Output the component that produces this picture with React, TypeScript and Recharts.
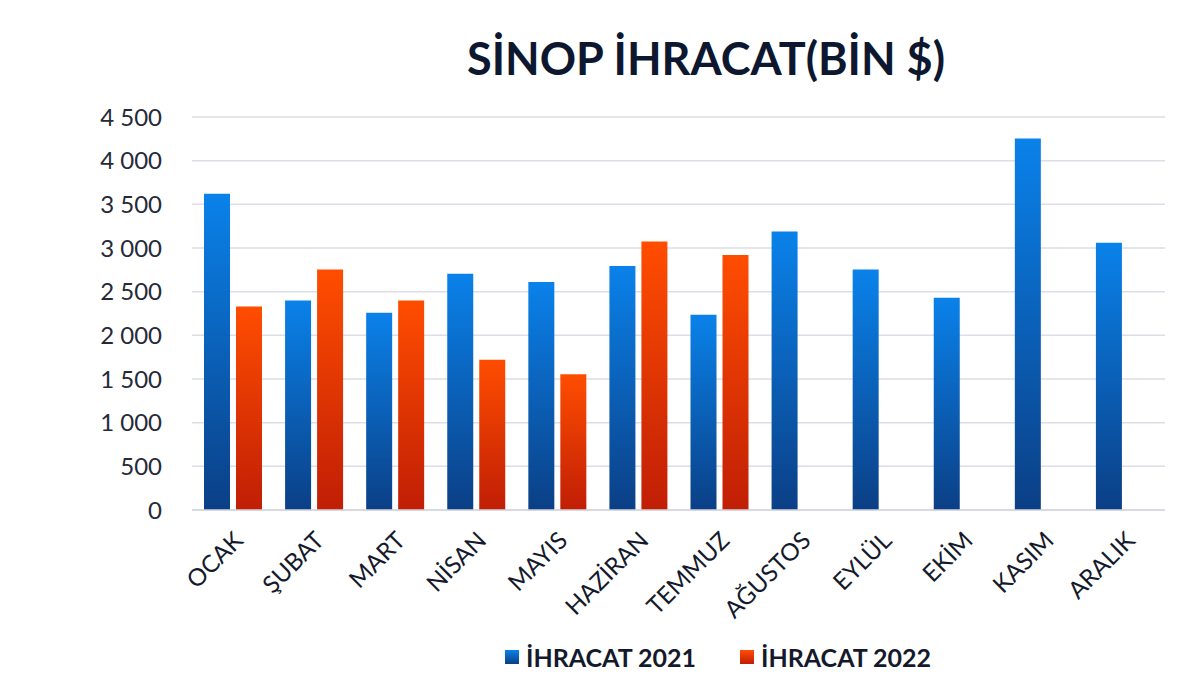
import { BarChart, Bar, XAxis, YAxis, CartesianGrid } from 'recharts';

const months = ['OCAK', 'ŞUBAT', 'MART', 'NİSAN', 'MAYIS', 'HAZİRAN', 'TEMMUZ', 'AĞUSTOS', 'EYLÜL', 'EKİM', 'KASIM', 'ARALIK'];
const exports2021 = [3620, 2400, 2260, 2705, 2610, 2795, 2235, 3190, 2755, 2430, 4255, 3060];
const exports2022 = [2330, 2755, 2400, 1720, 1555, 3075, 2920, null, null, null, null, null];
const yTicks = [0, 500, 1000, 1500, 2000, 2500, 3000, 3500, 4000, 4500];
const seriesNames = ['İHRACAT 2021', 'İHRACAT 2022'];

const data = months.map((m, i) => ({ month: m, y2021: exports2021[i], y2022: exports2022[i] }));

const FONT = "Lato, 'Open Sans', sans-serif";
const INK = '#141a2c';

const fmt = (v: number) => String(v).replace(/\B(?=(\d{3})+(?!\d))/g, ' ');

function MonthTick({ x, y, payload }: any) {
  const tx = x + 12;
  const ty = y + 24;
  return (
    <text
      x={tx}
      y={ty}
      transform={`rotate(-45, ${tx}, ${ty})`}
      textAnchor="end"
      fontFamily={FONT}
      fontSize={24}
      fill={INK}
    >
      {payload.value}
    </text>
  );
}

export default function App() {
  return (
    <div style={{ position: 'relative', width: 1184, height: 671, background: '#fff', fontFamily: FONT }}>
      <div
        style={{
          position: 'absolute',
          top: 22,
          left: 0,
          width: 1184,
          paddingLeft: 212,
          boxSizing: 'border-box',
          textAlign: 'center',
          fontSize: 45,
          fontWeight: 700,
          color: '#0d1730',
          lineHeight: '56px',
        }}
      >
        SİNOP İHRACAT(BİN $)
      </div>

      <BarChart
        width={1184}
        height={671}
        data={data}
        margin={{ top: 109, right: 27, left: 0, bottom: 0 }}
        barSize={26}
        barGap={6}
      >
        <defs>
          <linearGradient id="blueGrad" x1="0" y1="0" x2="0" y2="1">
            <stop offset="0%" stopColor="#0a82ea" />
            <stop offset="100%" stopColor="#0b3f86" />
          </linearGradient>
          <linearGradient id="orangeGrad" x1="0" y1="0" x2="0" y2="1">
            <stop offset="0%" stopColor="#ff4d00" />
            <stop offset="100%" stopColor="#c01e06" />
          </linearGradient>
        </defs>
        <CartesianGrid vertical={false} stroke="#dcdde6" strokeWidth={1.5} />
        <XAxis
          dataKey="month"
          height={169}
          axisLine={{ stroke: '#d4d5de', strokeWidth: 1.5 }}
          tickLine={false}
          interval={0}
          tick={<MonthTick />}
        />
        <YAxis
          width={184}
          domain={[0, 4500]}
          ticks={yTicks}
          tickFormatter={fmt}
          axisLine={false}
          tickLine={false}
          tickSize={0}
          tickMargin={30}
          tick={{ fontFamily: FONT, fontSize: 24, fill: '#252a38' }}
        />
        <Bar dataKey="y2021" name={seriesNames[0]} fill="url(#blueGrad)" isAnimationActive={false} />
        <Bar dataKey="y2022" name={seriesNames[1]} fill="url(#orangeGrad)" isAnimationActive={false} />
      </BarChart>

      <div
        style={{
          position: 'absolute',
          top: 634,
          left: 497,
          display: 'flex',
          alignItems: 'center',
          gap: 44,
          fontSize: 25,
          fontWeight: 700,
          color: INK,
        }}
      >
        {seriesNames.map((name, i) => (
          <div key={name} style={{ display: 'flex', alignItems: 'center', gap: 7 }}>
            <div
              style={{
                width: 14,
                height: 14,
                background: i === 0 ? 'linear-gradient(#0a82ea, #0b3f86)' : 'linear-gradient(#ff4d00, #c01e06)',
              }}
            />
            <span>{name}</span>
          </div>
        ))}
      </div>
    </div>
  );
}
